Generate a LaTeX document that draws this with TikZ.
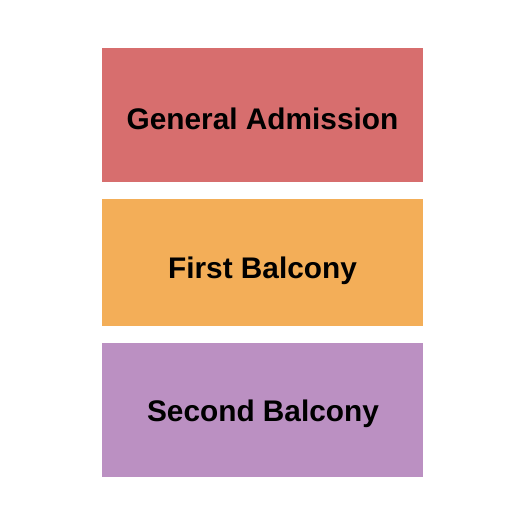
\documentclass[tikz,border=0pt]{standalone}
\usepackage{fontspec}
\setmainfont{Liberation Sans}
\usepackage{xcolor}
\definecolor{gacolor}{HTML}{D76E6E}
\definecolor{firstcolor}{HTML}{F3AE58}
\definecolor{secondcolor}{HTML}{BB90C2}
\begin{document}
\begin{tikzpicture}[x=1pt, y=-1pt,
  section/.style={draw=none, inner sep=0pt, minimum width=321pt, anchor=north west},
  label/.style={anchor=base, font=\fontsize{29.8}{34}\selectfont\bfseries, text=black}]
\useasboundingbox (0,0) rectangle (525,525);
% Sections
\node[section, fill=gacolor, minimum height=134pt] (ga) at (102,47.7) {};
\node[section, fill=firstcolor, minimum height=126.7pt] (fb) at (102,199) {};
\node[section, fill=secondcolor, minimum height=134pt] (sb) at (102,342.7) {};

% Labels
\node[label] (galabel) at (262.5,129.5) {General Admission};
\node[label] (fblabel) at (262.5,278.5) {First Balcony};
\node[label] (sblabel) at (263,421.5) {Second Balcony};
\end{tikzpicture}
\end{document}
